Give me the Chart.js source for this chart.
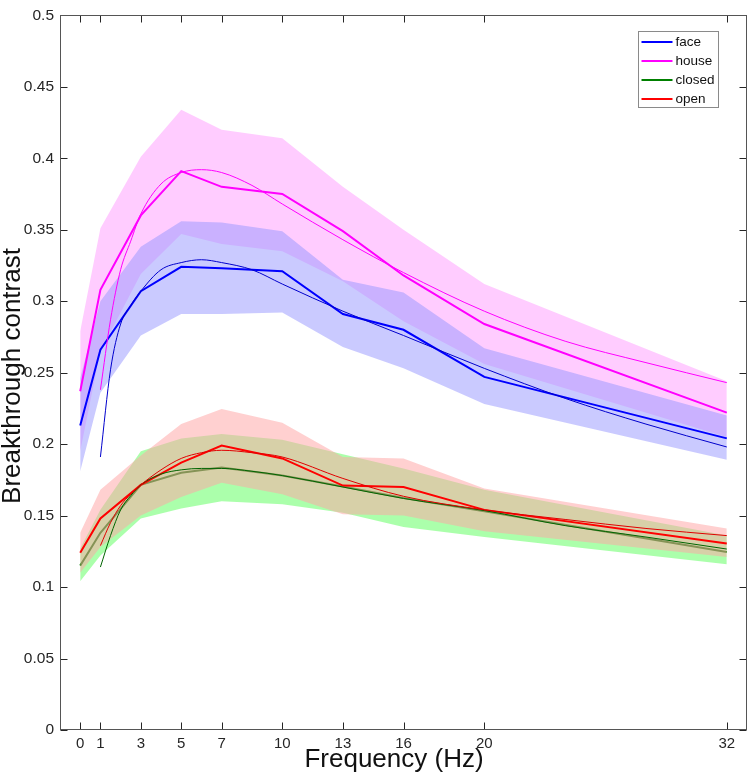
<!DOCTYPE html>
<html>
<head>
<meta charset="utf-8">
<script src="https://cdn.jsdelivr.net/npm/chart.js@4.4.0/dist/chart.umd.min.js"></script>
<style>
  html, body { margin: 0; padding: 0; background: #fff; }
</style>
</head>
<body>
<canvas id="breakthrough-chart" width="750" height="776"></canvas>
<script>
// frequencies where the means were measured
var freqs = [0, 1, 3, 5, 7, 10, 13, 16, 20, 32];
var xTicks = [0, 1, 3, 5, 7, 10, 13, 16, 20, 32];

var faceMean  = [0.213, 0.266, 0.307, 0.324, 0.323, 0.321, 0.291, 0.280, 0.247, 0.204];
var faceUpper = [0.246, 0.300, 0.338, 0.356, 0.355, 0.349, 0.315, 0.306, 0.267, 0.220];
var faceLower = [0.181, 0.236, 0.276, 0.291, 0.291, 0.292, 0.268, 0.253, 0.228, 0.189];

var houseMean  = [0.237, 0.308, 0.360, 0.391, 0.380, 0.375, 0.349, 0.318, 0.284, 0.222];
var houseUpper = [0.279, 0.351, 0.401, 0.434, 0.420, 0.414, 0.380, 0.350, 0.312, 0.244];
var houseLower = [0.195, 0.265, 0.319, 0.347, 0.340, 0.335, 0.314, 0.286, 0.256, 0.205];

var closedMean  = [0.115, 0.138, 0.1715, 0.180, 0.1837, 0.178, 0.1704, 0.1623, 0.153, 0.1245];
var closedUpper = [0.127, 0.154, 0.195, 0.204, 0.207, 0.203, 0.193, 0.183, 0.168, 0.136];
var closedLower = [0.104, 0.122, 0.148, 0.155, 0.160, 0.158, 0.152, 0.142, 0.135, 0.116];

var openMean  = [0.124, 0.148, 0.1715, 0.187, 0.199, 0.190, 0.171, 0.170, 0.154, 0.1305];
var openUpper = [0.138, 0.168, 0.192, 0.214, 0.2245, 0.215, 0.191, 0.190, 0.169, 0.141];
var openLower = [0.110, 0.128, 0.150, 0.163, 0.173, 0.165, 0.151, 0.150, 0.139, 0.121];

// fitted curves
var fitFreqs  = [1, 1.5, 2, 2.5, 3, 4, 5, 6, 7, 8.5, 10, 13, 16, 20, 24, 28, 32];
var faceFit   = [0.191, 0.252, 0.284, 0.297, 0.307, 0.322, 0.327, 0.329, 0.327, 0.322, 0.312, 0.293, 0.276, 0.253, 0.232, 0.214, 0.198];
var houseFit  = [0.238, 0.287, 0.322, 0.342, 0.361, 0.382, 0.390, 0.392, 0.390, 0.381, 0.368, 0.343, 0.320, 0.293, 0.272, 0.257, 0.243];
var closedFit = [0.114, 0.136, 0.154, 0.164, 0.1715, 0.179, 0.182, 0.183, 0.183, 0.181, 0.178, 0.170, 0.162, 0.1535, 0.143, 0.135, 0.1266];
var openFit   = [0.129, 0.145, 0.157, 0.165, 0.1715, 0.182, 0.190, 0.194, 0.1957, 0.194, 0.191, 0.176, 0.1635, 0.154, 0.1473, 0.141, 0.136];

var legendNames  = ['face', 'house', 'closed', 'open'];
var legendColors = ['#0000ff', '#ff00ff', '#008000', '#ff0000'];

var xTitle = 'Frequency (Hz)';
var yTitle = 'Breakthrough contrast';

var FONT = '"Liberation Sans", Arial, Helvetica, sans-serif';
var AXIS_COLOR = '#262626';

function pts(xs, ys) {
  return xs.map(function (x, i) { return { x: x, y: ys[i] }; });
}

function band(values, color, order, fill) {
  return {
    data: pts(freqs, values),
    borderWidth: 0,
    pointRadius: 0,
    backgroundColor: color,
    fill: fill ? '+1' : false,
    tension: 0,
    order: order
  };
}

function line(xs, values, color, width, order, smooth) {
  return {
    data: pts(xs, values),
    borderColor: color,
    borderWidth: width,
    pointRadius: 0,
    fill: false,
    cubicInterpolationMode: smooth ? 'monotone' : 'default',
    tension: smooth ? 0.4 : 0,
    order: order
  };
}

// inward ticks on all four sides, the box, axis titles and the legend
var framePlugin = {
  id: 'frame',
  afterDraw: function (chart) {
    var ctx = chart.ctx, a = chart.chartArea;
    var xs = chart.scales.x, ys = chart.scales.y;
    var L = Math.round(a.left) + 0.5, R = Math.round(a.right) - 0.5;
    var T = Math.round(a.top) + 0.5, B = Math.round(a.bottom) - 0.5;
    ctx.save();
    ctx.strokeStyle = AXIS_COLOR;
    ctx.lineWidth = 1;
    ctx.beginPath();
    xs.ticks.forEach(function (t) {
      var px = Math.round(xs.getPixelForValue(t.value)) + 0.5;
      ctx.moveTo(px, B); ctx.lineTo(px, B - 7);
      ctx.moveTo(px, T); ctx.lineTo(px, T + 7);
    });
    ys.ticks.forEach(function (t) {
      var py = Math.round(ys.getPixelForValue(t.value)) + 0.5;
      ctx.moveTo(L, py); ctx.lineTo(L + 7, py);
      ctx.moveTo(R, py); ctx.lineTo(R - 7, py);
    });
    ctx.stroke();
    ctx.strokeStyle = '#555';
    ctx.strokeRect(L, T, R - L, B - T);

    // axis titles
    ctx.fillStyle = '#111';
    ctx.font = '26px ' + FONT;
    ctx.textAlign = 'center';
    ctx.textBaseline = 'middle';
    ctx.fillText(xTitle, 394, 760);
    ctx.save();
    ctx.translate(13, 376);
    ctx.rotate(-Math.PI / 2);
    ctx.fillText(yTitle, 0, 0);
    ctx.restore();

    // legend
    var lx = Math.round(a.right) - 109 + 0.5, ly = 31.5, lw = 80, lh = 76;
    ctx.fillStyle = '#fff';
    ctx.fillRect(lx, ly, lw, lh);
    ctx.strokeStyle = '#8a8a8a';
    ctx.lineWidth = 1;
    ctx.strokeRect(lx, ly, lw, lh);
    ctx.font = '13.5px ' + FONT;
    ctx.textBaseline = 'middle';
    ctx.textAlign = 'left';
    legendNames.forEach(function (name, i) {
      var y = 42 + i * 19;
      ctx.strokeStyle = legendColors[i];
      ctx.lineWidth = 2;
      ctx.beginPath();
      ctx.moveTo(lx + 3, y); ctx.lineTo(lx + 34, y);
      ctx.stroke();
      ctx.fillStyle = '#111';
      ctx.fillText(name, lx + 37, y);
    });
    ctx.restore();
  }
};

new Chart(document.getElementById('breakthrough-chart'), {
  type: 'line',
  data: {
    datasets: [
      band(houseUpper, 'rgba(255,0,255,0.2)', 100, true),
      band(houseLower, 'rgba(0,0,0,0)', 99, false),
      band(faceUpper, 'rgba(150,150,255,0.5)', 98, true),
      band(faceLower, 'rgba(0,0,0,0)', 97, false),
      line(freqs, faceMean, '#0000ff', 2, 90, false),
      line(freqs, houseMean, '#ff00ff', 2, 89, false),
      band(closedUpper, 'rgba(0,255,0,0.33)', 80, true),
      band(closedLower, 'rgba(0,0,0,0)', 79, false),
      line(freqs, closedMean, '#008000', 2, 78, false),
      band(openUpper, 'rgba(255,164,164,0.52)', 70, true),
      band(openLower, 'rgba(0,0,0,0)', 69, false),
      line(freqs, openMean, '#ff0000', 2, 60, false),
      line(fitFreqs, faceFit, '#0000cc', 1, 10, true),
      line(fitFreqs, houseFit, '#ff00ff', 1, 9, true),
      line(fitFreqs, closedFit, '#006400', 1, 8, true),
      line(fitFreqs, openFit, '#e00000', 1, 7, true)
    ]
  },
  options: {
    responsive: false,
    devicePixelRatio: 1,
    animation: false,
    layout: { padding: { top: 6, right: 3, left: 0, bottom: 0 } },
    plugins: {
      legend: { display: false },
      tooltip: { enabled: false }
    },
    scales: {
      x: {
        type: 'linear',
        min: -1,
        max: 33,
        afterBuildTicks: function (scale) {
          scale.ticks = xTicks.map(function (v) { return { value: v }; });
        },
        afterFit: function (scale) { scale.height = 46; },
        grid: { display: false, drawTicks: false },
        border: { display: false },
        ticks: {
          padding: 5,
          maxRotation: 0,
          autoSkip: false,
          color: AXIS_COLOR,
          font: { family: FONT, size: 15 },
          callback: function (v) { return String(v); }
        }
      },
      y: {
        min: 0,
        max: 0.5,
        afterFit: function (scale) { scale.width = 60; },
        grid: { display: false, drawTicks: false },
        border: { display: false },
        ticks: {
          stepSize: 0.05,
          padding: 6,
          color: AXIS_COLOR,
          font: { family: FONT, size: 15.5 },
          callback: function (v) { return String(Math.round(v * 100) / 100); }
        }
      }
    }
  },
  plugins: [framePlugin]
});
</script>
</body>
</html>
